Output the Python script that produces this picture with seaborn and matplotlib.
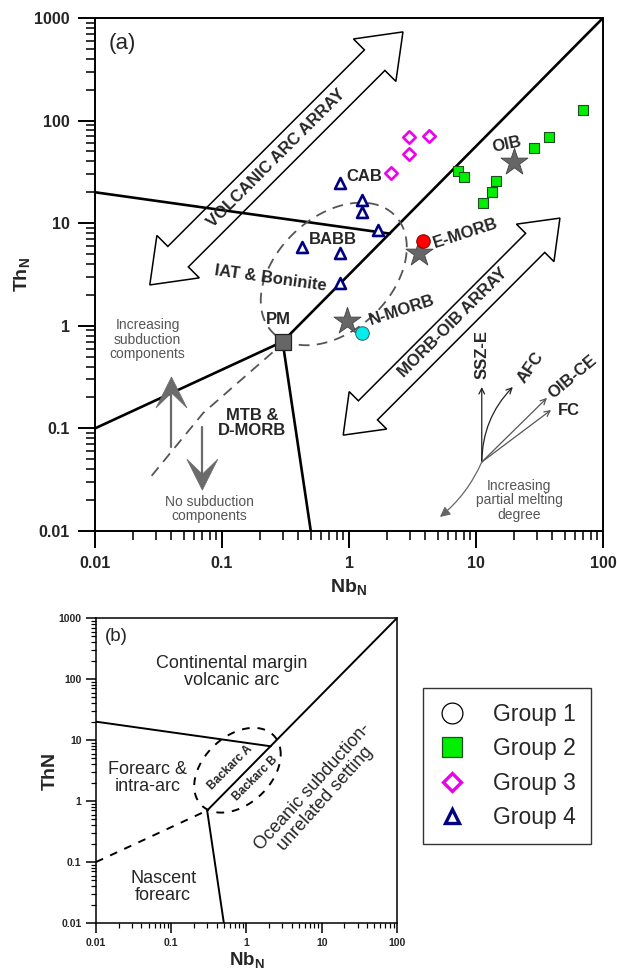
import numpy as np
import matplotlib
matplotlib.use("Agg")
import matplotlib.pyplot as plt
import seaborn as sns
from matplotlib.patches import Polygon
from matplotlib.lines import Line2D
from matplotlib.ticker import LogLocator, NullFormatter

# ---- sample data (Nb_N, Th_N) ----
g2_nb = [69.6, 37.6, 28.6, 7.2, 8.05, 14.4, 13.4, 11.4]
g2_th = [127, 69.2, 54.0, 32.3, 28.2, 25.8, 20.1, 15.7]
g3_nb = [2.97, 4.27, 2.97, 2.14]
g3_th = [69.2, 70.8, 47.2, 30.8]
g4_nb = [0.85, 1.26, 1.26, 1.69, 0.85, 0.85, 0.43]
g4_th = [24.7, 16.8, 12.9, 8.6, 5.1, 2.6, 5.9]

# reference compositions
star_nb = [0.96, 3.56, 19.9]      # N-MORB, E-MORB, OIB
star_th = [1.11, 5.1, 39.5]
pm_nb, pm_th = [0.3], [0.7]
emorb_nb, emorb_th = [3.83], [6.7]
nmorb_nb, nmorb_th = [1.27], [0.85]

# ---- diagram boundaries ----
upper_nb, upper_th = [0.01, 2.1], [20, 7.9]
diag_nb, diag_th = [0.3, 100], [0.7, 1000]
left_nb, left_th = [0.01, 0.3], [0.1, 0.7]
lower_nb, lower_th = [0.3, 0.5], [0.7, 0.01]
mtb_nb, mtb_th = [0.25, 0.071, 0.026], [0.55, 0.141, 0.031]

# dashed backarc field (ellipse in log units)
ell_cx, ell_cy, ell_rx, ell_ry, ell_phase = -0.12, 0.505, 0.575, 0.695, np.deg2rad(68)

x_ticks = [0.01, 0.1, 1, 10, 100]
x_labels = ["0.01", "0.1", "1", "10", "100"]
y_ticks = [0.01, 0.1, 1, 10, 100, 1000]
y_labels = ["0.01", "0.1", "1", "10", "100", "1000"]

sns.set_style("ticks")
plt.rcParams["font.family"] = ["Liberation Sans", "DejaVu Sans"]
plt.rcParams["mathtext.fontset"] = "custom"
plt.rcParams["mathtext.rm"] = "Liberation Sans"
plt.rcParams["mathtext.bf"] = "Liberation Sans:bold"

fig = plt.figure(figsize=(6.17, 9.75), dpi=100)
ax = fig.add_axes([0.1540, 0.4554, 0.8233, 0.5262])
axb = fig.add_axes([0.1556, 0.0533, 0.4878, 0.3128])


def setup_axes(a, tick_fs, major_len, minor_len, lw, pad):
    a.set_xscale("log")
    a.set_yscale("log")
    a.set_xlim(0.01, 100)
    a.set_ylim(0.01, 1000)
    a.set_xticks(x_ticks, x_labels, fontweight="bold", fontsize=tick_fs)
    a.set_yticks(y_ticks, y_labels, fontweight="bold", fontsize=tick_fs)
    for axis in (a.xaxis, a.yaxis):
        axis.set_minor_locator(LogLocator(base=10, subs=np.arange(2, 10), numticks=100))
        axis.set_minor_formatter(NullFormatter())
    a.tick_params(which="major", direction="out", length=major_len, width=lw, color="black", pad=pad)
    a.tick_params(which="minor", direction="out", length=minor_len, width=lw * 0.8, color="black")
    for s in a.spines.values():
        s.set_visible(True)
        s.set_linewidth(lw)
        s.set_color("black")
    a.grid(False)


def ellipse_pts():
    t = np.linspace(0, 2 * np.pi, 240)
    return 10 ** (ell_cx + ell_rx * np.cos(t)), 10 ** (ell_cy + ell_ry * np.cos(t - ell_phase))


def hollow_double_arrow(a, p0, p1, shaft, head, head_len, lw=1.1):
    # block arrow built in pixel space so it stays straight on log axes
    s = a.transData.transform(p0)
    e = a.transData.transform(p1)
    u = (e - s) / np.hypot(*(e - s))
    n = np.array([-u[1], u[0]])
    w, hw = shaft / 2, head / 2
    pts = [s, s + u * head_len + n * hw, s + u * head_len + n * w,
           e - u * head_len + n * w, e - u * head_len + n * hw, e,
           e - u * head_len - n * hw, e - u * head_len - n * w,
           s + u * head_len - n * w, s + u * head_len - n * hw]
    pts = a.transData.inverted().transform(np.array(pts))
    a.add_patch(Polygon(pts, closed=True, fc="white", ec="black", lw=lw, zorder=2))


def stealth_arrow(a, tail, tip, head_len=31, head_w=31, notch=16, color="#6b6b6b"):
    s = a.transData.transform(tail)
    e = a.transData.transform(tip)
    u = (e - s) / np.hypot(*(e - s))
    n = np.array([-u[1], u[0]])
    base = e - u * head_len
    pts = np.array([e, base + n * head_w / 2, e - u * notch, base - n * head_w / 2])
    pts = a.transData.inverted().transform(pts)
    a.add_patch(Polygon(pts, closed=True, fc=color, ec=color, lw=0.5, zorder=4))
    a.plot([tail[0], pts[2][0]], [tail[1], pts[2][1]], color=color, lw=1.6, zorder=4)


# ================= panel (a) =================
setup_axes(ax, 11.5, 12, 6.5, 1.4, 6)

hollow_double_arrow(ax, (0.027, 2.5), (2.66, 731), 29, 60, 40)
hollow_double_arrow(ax, (0.90, 0.086), (45.8, 11.2), 27, 53, 35)

line_kw = dict(color="black", lw=1.9, zorder=3)
sns.lineplot(x=upper_nb, y=upper_th, ax=ax, sort=False, **line_kw)
sns.lineplot(x=diag_nb, y=diag_th, ax=ax, sort=False, **line_kw)
sns.lineplot(x=left_nb, y=left_th, ax=ax, sort=False, **line_kw)
sns.lineplot(x=lower_nb, y=lower_th, ax=ax, sort=False, **line_kw)
ax.plot(mtb_nb, mtb_th, color="#555555", lw=1.3, ls=(0, (6, 4)), zorder=3)
ex, ey = ellipse_pts()
ax.plot(ex, ey, color="#555555", lw=1.3, ls=(0, (6, 4)), zorder=3)

# subduction arrows
stealth_arrow(ax, (0.040, 0.066), (0.040, 0.317))
stealth_arrow(ax, (0.070, 0.103), (0.070, 0.025))

# petrogenetic vectors
vec_origin = (11.1, 0.047)
ax.annotate("", xy=(11.1, 0.253), xytext=vec_origin,
            arrowprops=dict(arrowstyle="->", color="#222222", lw=0.9, shrinkA=0, shrinkB=0))
ax.annotate("", xy=(19.5, 0.253), xytext=vec_origin,
            arrowprops=dict(arrowstyle="->", color="#222222", lw=0.9, shrinkA=0, shrinkB=0,
                            connectionstyle="arc3,rad=-0.2"))
ax.annotate("", xy=(36.2, 0.198), xytext=vec_origin,
            arrowprops=dict(arrowstyle="->", color="#555555", lw=0.9, shrinkA=0, shrinkB=0))
ax.annotate("", xy=(39.0, 0.151), xytext=vec_origin,
            arrowprops=dict(arrowstyle="->", color="#555555", lw=0.9, shrinkA=0, shrinkB=0))
ax.annotate("", xy=(5.2, 0.0137), xytext=vec_origin,
            arrowprops=dict(arrowstyle="-|>,head_length=0.6,head_width=0.3", color="#666666",
                            lw=0.9, shrinkA=0, shrinkB=0, connectionstyle="arc3,rad=-0.12"))

# samples
sns.scatterplot(x=g2_nb, y=g2_th, ax=ax, marker="s", color="#00ee00", edgecolor="#1f4f1f",
                linewidth=0.8, s=62, zorder=6, legend=False)
sns.scatterplot(x=g3_nb, y=g3_th, ax=ax, marker="D", color="white", edgecolor="#ee00ee",
                linewidth=1.9, s=40, zorder=6, legend=False)
sns.scatterplot(x=g4_nb, y=g4_th, ax=ax, marker="^", color="white", edgecolor="#000080",
                linewidth=1.9, s=62, zorder=6, legend=False)
sns.scatterplot(x=star_nb, y=star_th, ax=ax, marker="*", color="#666666", edgecolor="#444444",
                linewidth=0.6, s=420, zorder=5, legend=False)
sns.scatterplot(x=pm_nb, y=pm_th, ax=ax, marker="s", color="#666666", edgecolor="#222222",
                linewidth=0.9, s=120, zorder=6, legend=False)
sns.scatterplot(x=emorb_nb, y=emorb_th, ax=ax, marker="o", color="#ff0000", edgecolor="#7a0000",
                linewidth=0.7, s=95, zorder=6, legend=False)
sns.scatterplot(x=nmorb_nb, y=nmorb_th, ax=ax, marker="o", color="#00eeee", edgecolor="#226666",
                linewidth=0.7, s=95, zorder=6, legend=False)

# labels
bold_kw = dict(fontsize=12, fontweight="bold", ha="center", va="center",
               rotation_mode="anchor", zorder=7)
ax.text(0.266, 43.2, "VOLCANIC ARC ARRAY", rotation=45, **bold_kw)
ax.text(6.6, 1.06, "MORB-OIB ARRAY", rotation=45, **bold_kw)
ax.text(1.31, 28.8, "CAB", **bold_kw)
ax.text(0.75, 7.0, "BABB", **bold_kw)
ax.text(0.24, 2.9, "IAT & Boninite", rotation=-8, **bold_kw)
ax.text(8.3, 8.0, "E-MORB", rotation=18, **bold_kw)
ax.text(2.61, 1.43, "N-MORB", rotation=18, **bold_kw)
ax.text(17.5, 59, "OIB", rotation=12, **bold_kw)
ax.text(0.28, 1.14, "PM", **bold_kw)
ax.text(0.172, 0.113, "MTB &\nD-MORB", linespacing=1.0, **bold_kw)
ax.text(11.1, 0.52, "SSZ-E", rotation=90, **bold_kw)
ax.text(27.1, 0.388, "AFC", rotation=55, **bold_kw)
ax.text(58, 0.317, "OIB-CE", rotation=40, **bold_kw)
ax.text(54, 0.151, "FC", **bold_kw)

gray_kw = dict(fontsize=10, color="#555555", ha="center", va="center", linespacing=1.05, zorder=7)
ax.text(0.026, 0.73, "Increasing\nsubduction\ncomponents", **gray_kw)
ax.text(0.079, 0.0164, "No subduction\ncomponents", **gray_kw)
ax.text(21.8, 0.020, "Increasing\npartial melting\ndegree", **gray_kw)

ax.text(0.026, 0.951, "(a)", transform=ax.transAxes, fontsize=16, ha="left", va="center")
ax.set_xlabel(r"Nb$_{\mathbf{N}}$", fontsize=14, fontweight="bold", labelpad=5)
ax.set_ylabel(r"Th$_{\mathbf{N}}$", fontsize=14, fontweight="bold", labelpad=1)

# ================= panel (b) =================
setup_axes(axb, 7.5, 7, 3.5, 1.1, 3.5)
line_b = dict(color="black", lw=1.4, zorder=3)
sns.lineplot(x=upper_nb, y=upper_th, ax=axb, sort=False, **line_b)
sns.lineplot(x=diag_nb, y=diag_th, ax=axb, sort=False, **line_b)
sns.lineplot(x=lower_nb, y=lower_th, ax=axb, sort=False, **line_b)
axb.plot(left_nb, left_th, color="black", lw=1.4, ls=(0, (4, 4)), zorder=3)
axb.plot(ex, ey, color="black", lw=1.4, ls=(0, (4, 4)), zorder=3)

reg_kw = dict(fontsize=13, ha="center", va="center", linespacing=1.05, rotation_mode="anchor")
axb.text(0.64, 130, "Continental margin\nvolcanic arc", **reg_kw)
axb.text(0.049, 2.38, "Forearc &\nintra-arc", **reg_kw)
axb.text(0.078, 0.039, "Nascent\nforearc", **reg_kw)
axb.text(9.2, 1.35, "Oceanic subduction-\nunrelated setting", rotation=48, **reg_kw)
small_kw = dict(fontsize=8.5, fontweight="bold", ha="center", va="center", rotation=45,
                rotation_mode="anchor")
axb.text(0.60, 3.6, "Backarc A", **small_kw)
axb.text(1.30, 2.38, "Backarc B", **small_kw)
axb.text(0.03, 0.94, "(b)", transform=axb.transAxes, fontsize=13.5, ha="left", va="center")
axb.set_xlabel(r"Nb$_{\mathbf{N}}$", fontsize=13.5, fontweight="bold", labelpad=2)
axb.set_ylabel("ThN", fontsize=14, fontweight="bold", labelpad=0)

# legend
handles = [
    Line2D([], [], ls="none", marker="o", ms=15, mfc="white", mec="black", mew=0.9),
    Line2D([], [], ls="none", marker="s", ms=15, mfc="#00ee00", mec="#1f4f1f", mew=0.9),
    Line2D([], [], ls="none", marker="D", ms=9.5, mfc="white", mec="#ee00ee", mew=2.4),
    Line2D([], [], ls="none", marker="^", ms=10.5, mfc="white", mec="#000080", mew=2.4),
]
leg = fig.legend(handles, ["Group 1", "Group 2", "Group 3", "Group 4"],
                 loc="upper left", bbox_to_anchor=(0.6856, 0.2944), bbox_transform=fig.transFigure,
                 borderaxespad=0, fontsize=16.5, frameon=True, fancybox=False, edgecolor="black",
                 labelspacing=0.5, borderpad=0.65, handlelength=1.2, handletextpad=1.2)
leg.get_frame().set_linewidth(1.0)

fig.savefig("out.png", dpi=100)
